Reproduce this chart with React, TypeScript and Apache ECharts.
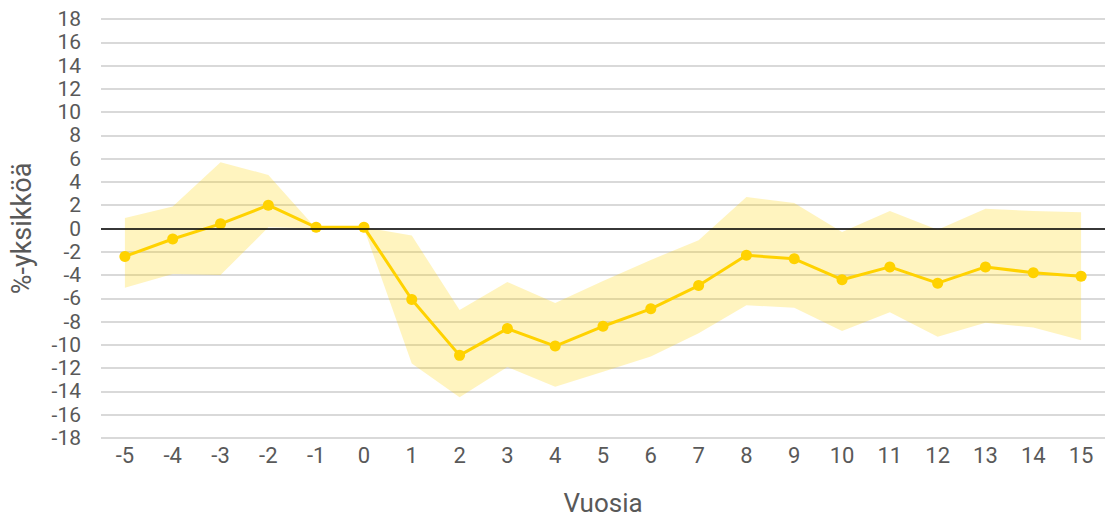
import React, { useEffect, useRef } from "react";
import * as echarts from "echarts";

const years = ["-5", "-4", "-3", "-2", "-1", "0", "1", "2", "3", "4", "5", "6", "7", "8", "9", "10", "11", "12", "13", "14", "15"];
const estimate = [-2.4, -0.9, 0.4, 2.0, 0.1, 0.1, -6.1, -10.9, -8.6, -10.1, -8.4, -6.9, -4.9, -2.3, -2.6, -4.4, -3.3, -4.7, -3.3, -3.8, -4.1];
const upper = [0.9, 1.9, 5.7, 4.6, 0.0, 0.1, -0.6, -7.0, -4.6, -6.4, -4.5, -2.7, -1.0, 2.7, 2.2, -0.3, 1.5, -0.1, 1.7, 1.5, 1.4];
const lower = [-5.1, -3.9, -4.0, 0.1, 0.0, 0.0, -11.6, -14.5, -11.9, -13.6, -12.3, -11.0, -9.0, -6.6, -6.8, -8.8, -7.2, -9.3, -8.1, -8.5, -9.6];

const yMin = -18;
const yMax = 18;
const yStep = 2;

const textColor = "#595959";
const fontFamily = "Roboto, 'Noto Sans', sans-serif";

export default function App() {
  const ref = useRef<HTMLDivElement>(null);

  useEffect(() => {
    if (!ref.current) return;
    const chart = echarts.init(ref.current, undefined, { renderer: "svg" });
    const bandWidth = upper.map((u, i) => +(u - lower[i]).toFixed(2));
    chart.setOption({
      animation: false,
      grid: { left: 101, right: 0, top: 19, bottom: 83, containLabel: false },
      xAxis: {
        type: "category",
        data: years,
        boundaryGap: true,
        name: "Vuosia",
        nameLocation: "middle",
        nameGap: 52,
        nameTextStyle: { color: textColor, fontSize: 26, fontFamily },
        axisLine: { show: false },
        axisTick: { show: false },
        axisLabel: { color: textColor, fontSize: 22, fontFamily, margin: 6 },
        splitLine: { show: false },
      },
      yAxis: {
        type: "value",
        min: yMin,
        max: yMax,
        interval: yStep,
        name: "%-yksikköä",
        nameLocation: "middle",
        nameGap: 66,
        nameTextStyle: { color: textColor, fontSize: 27, fontFamily },
        axisLine: { show: false },
        axisTick: { show: false },
        axisLabel: { color: textColor, fontSize: 21, fontFamily, margin: 20, lineHeight: 21 },
        splitLine: { show: true, lineStyle: { color: "#d9d9d9", width: 2 } },
      },
      series: [
        {
          name: "lower",
          type: "line",
          data: lower,
          stack: "band",
          stackStrategy: "all",
          symbol: "none",
          lineStyle: { opacity: 0 },
          silent: true,
          z: 1,
        },
        {
          name: "band",
          type: "line",
          data: bandWidth,
          stack: "band",
          stackStrategy: "all",
          symbol: "none",
          lineStyle: { opacity: 0 },
          areaStyle: { color: "rgba(255, 210, 0, 0.25)", opacity: 1 },
          silent: true,
          z: 1,
        },
        {
          name: "estimate",
          type: "line",
          data: estimate,
          symbol: "circle",
          symbolSize: 11,
          itemStyle: { color: "#FFD200" },
          lineStyle: { color: "#FFD200", width: 3 },
          z: 3,
          markLine: {
            silent: true,
            symbol: "none",
            label: { show: false },
            lineStyle: { color: "#000000", width: 1.5, type: "solid" },
            data: [{ yAxis: 0 }],
          },
        },
      ],
    });
    return () => chart.dispose();
  }, []);

  return (
    <div
      ref={ref}
      style={{ position: "absolute", left: 0, top: 0, width: 1105, height: 521, background: "#ffffff" }}
    />
  );
}
